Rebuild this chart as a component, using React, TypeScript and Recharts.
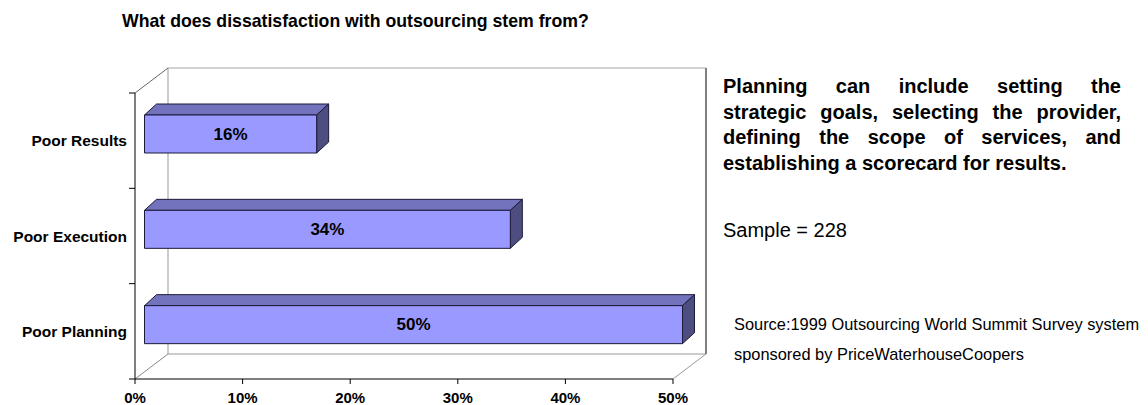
import React from "react";
import { BarChart, Bar, XAxis, YAxis, ReferenceArea, LabelList } from "recharts";

const categories = ["Poor Results", "Poor Execution", "Poor Planning"];
const shares = [16, 34, 50];
const xTicks = [0, 10, 20, 30, 40, 50];

const noteLines = [
  "Planning can include setting the",
  "strategic goals, selecting the provider,",
  "defining the scope of services, and",
  "establishing a scorecard for results.",
];

const data = categories.map((name, i) => ({ name, value: shares[i] }));

const FONT = 'Arial, "Liberation Sans", sans-serif';

// 3d look: back wall offset and bar depth
const WALL_DX = 33;
const WALL_DY = 25;
const BAR_SHIFT_X = 9.5;
const BAR_SHIFT_Y = 7;
const BAR_DX = 12;
const BAR_DY = 11;

const Frame = (props: any) => {
  const { x, y, width, height } = props;
  const bx = x + WALL_DX;
  const by = y - WALL_DY;
  const n = categories.length;
  const ticks = [];
  for (let i = 0; i <= n; i++) {
    const ty = y + (height * i) / n;
    ticks.push(<line key={i} x1={x - 6} x2={x} y1={ty} y2={ty} stroke="#000" />);
  }
  return (
    <g>
      <rect x={bx} y={by} width={width} height={height} fill="#fff" />
      <line x1={bx} y1={by} x2={bx + width} y2={by} stroke="#a6a6a6" />
      <line x1={bx} y1={by} x2={bx} y2={by + height} stroke="#999" />
      <line x1={bx} y1={by + height} x2={bx + width} y2={by + height} stroke="#999" />
      <line x1={bx + width} y1={by} x2={bx + width} y2={by + height} stroke="#808080" strokeWidth={2} />
      <line x1={x} y1={y} x2={bx} y2={by} stroke="#666" />
      <line x1={x} y1={y + height} x2={bx} y2={by + height} stroke="#888" />
      <line x1={x + width} y1={y + height} x2={bx + width} y2={by + height} stroke="#999" />
      {ticks}
    </g>
  );
};

const Bar3D = (props: any) => {
  const { x, y, width, height } = props;
  if (!width || width <= 0) return null;
  const fx = x + BAR_SHIFT_X;
  const fy = y - BAR_SHIFT_Y;
  const w = width;
  const h = height;
  return (
    <g stroke="#1a1a3a" strokeWidth={1} strokeLinejoin="round">
      <polygon
        points={`${fx},${fy} ${fx + BAR_DX},${fy - BAR_DY} ${fx + w + BAR_DX},${fy - BAR_DY} ${fx + w},${fy}`}
        fill="#7373BD"
      />
      <polygon
        points={`${fx + w},${fy} ${fx + w + BAR_DX},${fy - BAR_DY} ${fx + w + BAR_DX},${fy + h - BAR_DY} ${fx + w},${fy + h}`}
        fill="#4D4D80"
      />
      <rect x={fx} y={fy} width={w} height={h} fill="#9999FF" />
    </g>
  );
};

const renderValue = (props: any) => {
  const { x, y, width, height, value } = props;
  return (
    <text
      x={Number(x) + BAR_SHIFT_X + Number(width) / 2}
      y={Number(y) - BAR_SHIFT_Y + Number(height) / 2}
      textAnchor="middle"
      dominantBaseline="central"
      fontFamily={FONT}
      fontWeight="bold"
      fontSize={17}
      fill="#000"
    >
      {value}%
    </text>
  );
};

// place text by its baseline (line-height equal to font size)
const TextAt = ({ x, base, size, bold, children }: any) => (
  <div
    style={{
      position: "absolute",
      left: x,
      top: base - 0.8465 * size,
      fontSize: size,
      lineHeight: `${size}px`,
      fontWeight: bold ? "bold" : "normal",
      whiteSpace: "nowrap",
      color: "#000",
    }}
  >
    {children}
  </div>
);

const App: React.FC = () => {
  return (
    <div
      style={{
        position: "absolute",
        left: 0,
        top: 0,
        width: 1148,
        height: 405,
        background: "#fff",
        fontFamily: FONT,
        overflow: "hidden",
      }}
    >
      <BarChart
        width={1148}
        height={405}
        layout="vertical"
        data={data}
        margin={{ top: 93, right: 475, bottom: 0, left: 0 }}
        barSize={38}
      >
        <XAxis
          type="number"
          domain={[0, 50]}
          ticks={xTicks}
          interval={0}
          tickFormatter={(v: number) => `${v}%`}
          axisLine={{ stroke: "#000" }}
          tickLine={{ stroke: "#000" }}
          tickSize={5}
          tickMargin={8}
          height={26}
          tick={{ fontSize: 15, fontWeight: "bold", fill: "#000", fontFamily: FONT }}
        />
        <YAxis
          type="category"
          dataKey="name"
          width={135}
          axisLine={{ stroke: "#000" }}
          tickLine={false}
          tick={{ fontSize: 15.5, fontWeight: "bold", fill: "#000", fontFamily: FONT }}
        />
        <ReferenceArea x1={0} x2={50} shape={(p: any) => <Frame {...p} />} />
        <Bar dataKey="value" isAnimationActive={false} shape={(p: any) => <Bar3D {...p} />}>
          <LabelList dataKey="value" content={renderValue} />
        </Bar>
      </BarChart>

      <TextAt x={122} base={27.7} size={17.7} bold>
        What does dissatisfaction with outsourcing stem from?
      </TextAt>

      {noteLines.map((line, i) => (
        <div
          key={i}
          style={{
            position: "absolute",
            left: 723,
            width: 398,
            top: 93 + i * 25.7 - 0.8465 * 20,
            fontSize: 20,
            lineHeight: "20px",
            fontWeight: "bold",
            textAlign: i < noteLines.length - 1 ? "justify" : "left",
            textAlignLast: i < noteLines.length - 1 ? "justify" : "left",
            color: "#000",
          }}
        >
          {line}
        </div>
      ))}

      <TextAt x={723} base={236.5} size={20}>
        Sample = 228
      </TextAt>
      <TextAt x={734} base={330} size={16.4}>
        Source:1999 Outsourcing World Summit Survey system
      </TextAt>
      <TextAt x={734} base={360} size={16.4}>
        sponsored by PriceWaterhouseCoopers
      </TextAt>
    </div>
  );
};

export default App;
